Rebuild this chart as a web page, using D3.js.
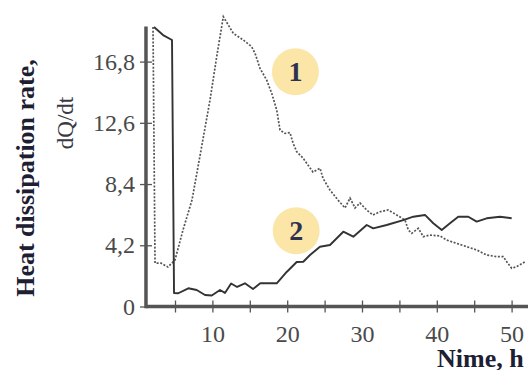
<!DOCTYPE html>
<html>
<head>
<meta charset="utf-8">
<script src="https://cdn.jsdelivr.net/npm/d3@7"></script>
<style>
  body { margin: 0; background: #fff; }
  svg { display: block; }
  .tick text { font-family: "Liberation Serif", "DejaVu Serif", serif; }
</style>
</head>
<body>
<div class="chart"></div>
<script>
// curve 1 (dotted)
var time1 = [2.06, 2.33, 3.13, 4.06, 5.0, 6.07, 7.27, 8.48, 9.68, 10.61, 11.46, 12.79, 14.13, 15.25, 15.7,
  16.36, 17.26, 17.93, 18.6, 19.04, 19.7, 20.37, 20.78, 21.27, 22.1, 23.45, 24.39, 24.79, 25.72, 26.79,
  27.73, 28.4, 29.06, 29.73, 30.63, 31.47, 32.41, 33.48, 34.64, 35.75, 36.19, 36.64, 37.53, 38.2, 39.09,
  40.43, 41.32, 42.66, 44.0, 45.33, 46.67, 48.01, 48.89, 49.35, 50.01, 50.68, 51.79];
var rate1 = [19.17, 2.98, 2.98, 2.71, 3.19, 5.25, 7.3, 10.73, 14.16, 17.25, 19.88, 18.74, 18.28, 17.82, 17.37,
  16.34, 15.53, 14.62, 13.48, 12.1, 11.87, 11.93, 11.21, 10.62, 10.19, 9.22, 9.48, 8.79, 7.99, 7.3,
  6.76, 7.44, 6.76, 7.1, 6.62, 6.28, 6.5, 6.62, 6.28, 5.93, 5.25, 5.02, 5.36, 4.79, 4.9,
  4.84, 4.56, 4.33, 4.1, 3.88, 3.53, 3.42, 3.42, 3.07, 2.62, 2.73, 3.07];

// curve 2 (solid)
var time2 = [2.19, 3.4, 4.6, 4.87, 5.44, 6.78, 7.9, 9.01, 9.91, 11.02, 11.68, 12.5, 13.3, 14.35, 15.43,
  16.4, 18.6, 19.93, 21.27, 22.15, 23.05, 24.38, 25.72, 27.5, 28.84, 30.63, 31.5, 33.3, 35.52, 36.86,
  38.42, 39.53, 40.66, 41.76, 42.87, 44.21, 45.33, 46.67, 48.45, 50.01];
var rate2 = [19.17, 18.62, 18.28, 0.93, 0.91, 1.25, 1.13, 0.79, 0.75, 1.13, 0.93, 1.58, 1.34, 1.59, 1.2,
  1.59, 1.59, 2.37, 3.05, 3.07, 3.53, 4.1, 4.22, 5.13, 4.79, 5.59, 5.36, 5.59, 5.93, 6.16,
  6.28, 5.71, 5.25, 5.71, 6.16, 6.16, 5.82, 6.05, 6.16, 6.05];

var yTicks = [0, 4.2, 8.4, 12.6, 16.8];
var xTicks = [5, 10, 15, 20, 25, 30, 35, 40, 45, 50];
var xLabels = [10, 20, 30, 40, 50];

var svgWidth = 528;
var svgHeight = 370;

var svg = d3.select(".chart")
  .append("svg")
  .attr("width", svgWidth)
  .attr("height", svgHeight);

var xScale = d3.scaleLinear()
  .domain([0, 52.3])
  .range([137.6, 528.8]);

var yScale = d3.scaleLinear()
  .domain([0, 19.2])
  .range([306.5, 26.6]);

var commaFormat = d3.formatLocale({decimal: ",", thousands: ".", grouping: [3], currency: ["", ""]}).format("");

var axisColor = "#555";
var labelColor = "#4a4a4a";
var titleColor = "#1d2033";

// x axis
var xAxis = svg.append("g")
  .attr("transform", `translate(0, ${yScale(0)})`)
  .call(d3.axisBottom(xScale)
    .tickValues(xTicks)
    .tickSize(6)
    .tickPadding(12)
    .tickFormat(d => xLabels.indexOf(d) >= 0 ? d : ""));
xAxis.select(".domain").remove();
xAxis.selectAll(".tick line")
  .attr("y1", -6)
  .attr("stroke", axisColor)
  .attr("stroke-width", 1.3);
xAxis.selectAll(".tick text")
  .attr("fill", labelColor)
  .style("font-size", "24px");

// y axis
var yAxis = svg.append("g")
  .attr("transform", `translate(${xScale(1.12)}, 0)`)
  .call(d3.axisLeft(yScale)
    .tickValues(yTicks)
    .tickSize(6)
    .tickPadding(5)
    .tickFormat(commaFormat));
yAxis.select(".domain").remove();
yAxis.selectAll(".tick line")
  .attr("x1", 6)
  .attr("stroke", axisColor)
  .attr("stroke-width", 1.3);
yAxis.selectAll(".tick text")
  .attr("fill", labelColor)
  .style("font-size", "24px");

// axis lines
var x0 = xScale(1.12);
svg.append("line")
  .attr("x1", x0).attr("x2", svgWidth)
  .attr("y1", yScale(0)).attr("y2", yScale(0))
  .attr("stroke", axisColor)
  .attr("stroke-width", 3.5);
svg.append("line")
  .attr("x1", x0).attr("x2", x0)
  .attr("y1", yScale(19.2)).attr("y2", yScale(0) + 1.7)
  .attr("stroke", axisColor)
  .attr("stroke-width", 3.5);

// curves
var line = d3.line()
  .x(d => xScale(d[0]))
  .y(d => yScale(d[1]));

svg.append("path")
  .datum(time1.map((t, i) => [t, rate1[i]]))
  .attr("d", line)
  .attr("fill", "none")
  .attr("stroke", "#555")
  .attr("stroke-width", 1.7)
  .attr("stroke-dasharray", "2,1.6");

svg.append("path")
  .datum(time2.map((t, i) => [t, rate2[i]]))
  .attr("d", line)
  .attr("fill", "none")
  .attr("stroke", "#333")
  .attr("stroke-width", 1.9)
  .attr("stroke-linejoin", "round");

// curve labels
var marks = [{n: "1", t: 21.1, v: 16.1}, {n: "2", t: 21.2, v: 5.2}];
marks.forEach(function (m) {
  svg.append("circle")
    .attr("cx", xScale(m.t))
    .attr("cy", yScale(m.v))
    .attr("r", 23.5)
    .attr("fill", "#fbe6a8");
  svg.append("text")
    .attr("x", xScale(m.t))
    .attr("y", yScale(m.v) + 9)
    .attr("text-anchor", "middle")
    .attr("font-family", "Liberation Serif, serif")
    .attr("font-weight", "bold")
    .attr("font-size", "28px")
    .attr("fill", "#2e3250")
    .text(m.n);
});

// titles
svg.append("text")
  .attr("transform", "translate(34, 178) rotate(-90)")
  .attr("text-anchor", "middle")
  .attr("font-family", "Liberation Serif, serif")
  .attr("font-weight", "bold")
  .attr("font-size", "26px")
  .attr("fill", titleColor)
  .text("Heat dissipation rate,");

svg.append("text")
  .attr("transform", "translate(73, 123) rotate(-90)")
  .attr("text-anchor", "middle")
  .attr("font-family", "Liberation Serif, serif")
  .attr("font-size", "23px")
  .attr("fill", "#3a3a44")
  .text("dQ/dt");

svg.append("text")
  .attr("x", 437)
  .attr("y", 367)
  .attr("font-family", "Liberation Serif, serif")
  .attr("font-weight", "bold")
  .attr("font-size", "26px")
  .attr("fill", titleColor)
  .text("Nime, h");
</script>
</body>
</html>
